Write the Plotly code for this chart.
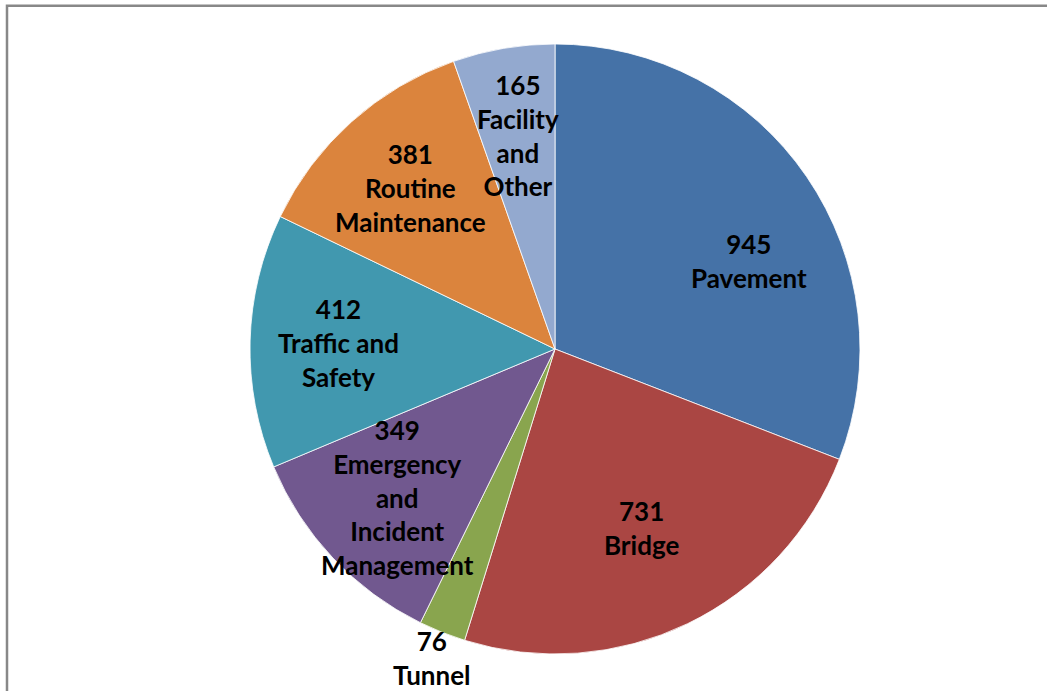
import math

import plotly.graph_objects as go

# Data (clockwise from 12 o'clock).
CATEGORIES = [
    "Pavement",
    "Bridge",
    "Tunnel",
    "Emergency and Incident Management",
    "Traffic and Safety",
    "Routine Maintenance",
    "Facility and Other",
]
VALUES = [945, 731, 76, 349, 412, 381, 165]
LABEL_LINES = [
    ["Pavement"],
    ["Bridge"],
    ["Tunnel"],
    ["Emergency", "and", "Incident", "Management"],
    ["Traffic and", "Safety"],
    ["Routine", "Maintenance"],
    ["Facility", "and", "Other"],
]

COLORS = ["#4572A7", "#AA4643", "#89A54E", "#71588F",
          "#4198AF", "#DB843D", "#93A9CF"]

# Label nudges (angle offset in degrees, radius fraction) copied from the original.
LABEL_NUDGE = {"Pavement": (10, 0.70), "Bridge": (0, 0.65), "Tunnel": (0, 1.09)}

W, H = 1047, 691
CX, CY, R = 555, 349, 305          # pie centre / radius in pixels
FONT = dict(family="Lato, 'Open Sans', sans-serif", size=26, color="#000000")

fig = go.Figure(go.Pie(
    labels=CATEGORIES, values=VALUES, sort=False,
    direction="clockwise", rotation=0,
    marker=dict(colors=COLORS, line=dict(color="#FFFFFF", width=0.8)),
    textinfo="none", hoverinfo="label+value",
    domain=dict(x=[(CX - R) / W, (CX + R) / W],
                y=[(H - CY - R) / H, (H - CY + R) / H]),
    showlegend=False,
))

# Data labels at each slice's mid-angle (Excel-style "best fit").
total = sum(VALUES)
start = 0.0
annotations = []
for name, val, lines in zip(CATEGORIES, VALUES, LABEL_LINES):
    span = val / total * 360
    mid = start + span / 2
    start += span
    shift, frac = LABEL_NUDGE.get(name, (0, 0.71))
    mid += shift
    px = CX + frac * R * math.sin(math.radians(mid))
    py = CY - frac * R * math.cos(math.radians(mid))
    text = "<br>".join(f"<b>{t}</b>" for t in [str(val)] + lines)
    annotations.append(dict(
        x=px / W, y=1 - py / H, xref="paper", yref="paper",
        text=text, showarrow=False, xanchor="center", yanchor="middle",
        align="center", font=FONT))

fig.update_layout(
    width=W, height=H,
    margin=dict(l=0, r=0, t=0, b=0),
    paper_bgcolor="#FFFFFF", plot_bgcolor="#FFFFFF",
    annotations=annotations,
    shapes=[dict(type="rect", xref="paper", yref="paper",
                 x0=7 / W, x1=1.02, y0=-0.02, y1=1 - 5.7 / H,
                 line=dict(color="#888888", width=2.5))],
)

# drop the default 8px body margin so the figure sits at the window origin
fig.write_html("out.html", config={"displayModeBar": False},
               post_script="document.body.style.margin='0';")
